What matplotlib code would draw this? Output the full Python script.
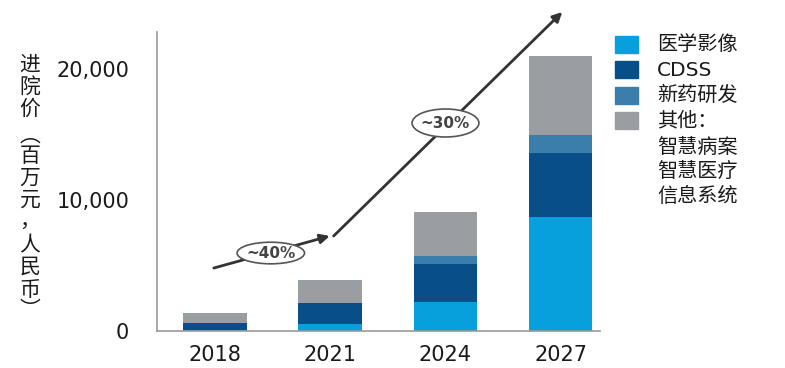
import numpy as np
import matplotlib.pyplot as plt
from matplotlib.patches import Ellipse, Rectangle

plt.rcParams['font.family'] = ['DejaVu Sans', 'Noto Sans CJK SC']

years = ['2018', '2021', '2024', '2027']
imaging = [100, 530, 2240, 8720]
cdss = [510, 1580, 2900, 4840]
drug = [0, 0, 590, 1370]
other = [760, 1760, 3360, 6080]

series_names = ['医学影像', 'CDSS', '新药研发', '其他：']
other_lines = ['智慧病案', '智慧医疗', '信息系统']
colors = ['#08A0DC', '#074F86', '#3B7DAB', '#9A9EA3']
ylabel_chars = list('进院价') + ['︵'] + list('百万元，人民币') + ['︶']

fig = plt.figure(figsize=(7.85, 3.68), dpi=100)
ax = fig.add_axes([0.2, 0.1005, 0.5643, 0.8125])

x = np.arange(len(years))
bottom = np.zeros(len(years))
for vals, c in zip([imaging, cdss, drug, other], colors):
    ax.bar(x, vals, width=0.55, bottom=bottom, color=c)
    bottom += np.array(vals)

ax.set_xlim(-0.502, 3.34)
ax.set_ylim(0, 22824)
ax.set_yticks([0, 10000, 20000])
ax.set_yticklabels(['0', '10,000', '20,000'])
ax.set_xticks(x)
ax.set_xticklabels(years)
ax.tick_params(length=0, labelsize=15, colors='#1a1a1a')
ax.tick_params(axis='y', pad=20)
ax.tick_params(axis='x', pad=10)
for s in ['top', 'right']:
    ax.spines[s].set_visible(False)
for s in ['left', 'bottom']:
    ax.spines[s].set_color('#999999')
    ax.spines[s].set_linewidth(1.2)

# growth arrows
ax.annotate('', xy=(0.996, 7252), xytext=(-0.009, 4809),
            arrowprops=dict(arrowstyle='-|>', color='#333333', lw=2,
                            mutation_scale=14, shrinkA=0, shrinkB=0),
            annotation_clip=False)
ax.annotate('', xy=(3.013, 24351), xytext=(1.03, 7252),
            arrowprops=dict(arrowstyle='-|>', color='#333333', lw=2,
                            mutation_scale=14, shrinkA=0, shrinkB=0),
            annotation_clip=False)

for cx, cy, w, h, txt in [(0.485, 5954, 0.585, 1650, '~40%'),
                          (2.0, 15878, 0.58, 2137, '~30%')]:
    ax.add_patch(Ellipse((cx, cy), w, h, facecolor='white',
                         edgecolor='#555555', lw=1.2, zorder=5))
    ax.text(cx, cy, txt, ha='center', va='center', fontsize=11,
            fontweight='bold', color='#444444', zorder=6)

# legend
H = 368.0
W = 785.0
for i, (name, c) in enumerate(zip(series_names, colors)):
    top = 36 + i * 25.3
    fig.add_artist(Rectangle((615 / W, 1 - (top + 17) / H), 23 / W, 17 / H,
                             transform=fig.transFigure, color=c))
    fig.text(657 / W, 1 - (top + 9) / H, name, fontsize=14.5,
             va='center', ha='left', color='#1a1a1a')
for j, line in enumerate(other_lines):
    fig.text(657 / W, 1 - (147 + j * 24.5) / H, line, fontsize=14.5,
             va='center', ha='left', color='#1a1a1a')

# vertical y label
ys = [65, 87, 109, 136, 156, 178, 200, 222, 245, 267, 290, 310]
for ch, yy in zip(ylabel_chars, ys):
    fig.text(30 / W, 1 - yy / H, ch, fontsize=15, ha='center', va='center',
             color='#1a1a1a')

fig.savefig('out.png', dpi=100)
